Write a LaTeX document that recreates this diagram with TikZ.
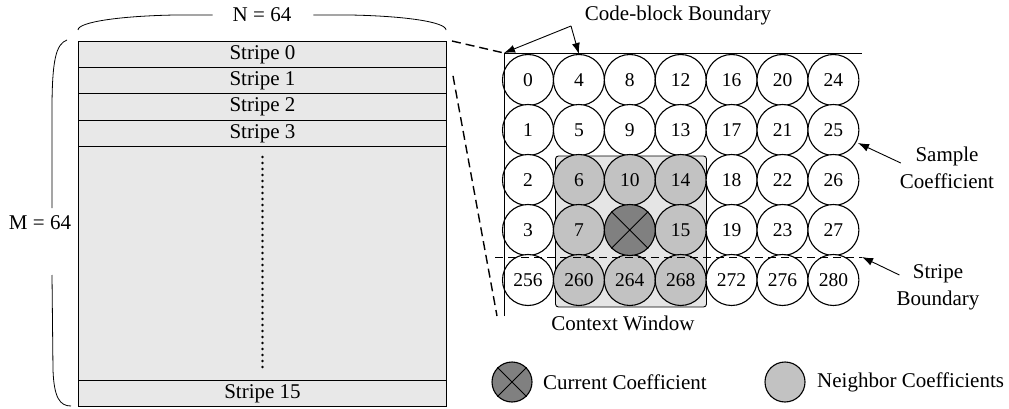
\documentclass[tikz,border=0pt]{standalone}
\usepackage{fontspec}
\setmainfont{Liberation Serif}
\usetikzlibrary{arrows.meta}
\definecolor{stripefill}{gray}{0.91}
\definecolor{winfill}{gray}{0.90}
\definecolor{nbfill}{gray}{0.76}
\definecolor{curfill}{gray}{0.50}
\begin{document}
\begin{tikzpicture}[x=1pt,y=-1pt,
  txt/.style={font=\fontsize{21}{27}\selectfont, inner sep=0pt, align=center},
  stripebox/.style={draw, fill=stripefill, line width=1pt, minimum width=368pt,
    minimum height=26.25pt, inner sep=0pt, anchor=north west,
    font=\fontsize{21}{24}\selectfont},
  coef/.style={circle, draw, fill=white, line width=1.1pt, minimum size=51pt,
    inner sep=0pt, font=\fontsize{19.5}{22}\selectfont},
  nb/.style={coef, fill=nbfill},
  cur/.style={coef, fill=curfill},
  legcirc/.style={circle, draw, line width=1.1pt, minimum size=40pt, inner sep=0pt},
  tip/.style={-{Latex[length=11pt,width=8pt]}, line width=0.9pt},
  zoomline/.style={line width=1.4pt, dash pattern=on 9pt off 5pt},
  brace/.style={line width=0.8pt},
]
\useasboundingbox (0,0) rectangle (1009,409);

% ---- code-block made of stripes ----
\node[stripebox] (s0) at (78,41)     {Stripe 0};
\node[stripebox] (s1) at (78,67.25)  {Stripe 1};
\node[stripebox] (s2) at (78,93.5)   {Stripe 2};
\node[stripebox] (s3) at (78,119.75) {Stripe 3};
\node[stripebox, minimum height=234pt] (smid) at (78,146) {};
\node[stripebox] (s15) at (78,380)   {Stripe 15};
\draw[line width=2.6pt, line cap=round, dash pattern=on 0pt off 6pt]
  (smid.north) ++(0,11) coordinate (dotA) (smid.south) ++(0,-14) coordinate (dotB)
  (dotA) -- (dotB);

% ---- dimension braces ----
\node[txt] (nlab) at (262,15) {N = 64};
\draw[brace] (78,30) .. controls (78,22) and (120,16) .. (175,15) -- ([xshift=-20pt]nlab.west);
\draw[brace] ([xshift=22pt]nlab.east) -- (350,15) .. controls (405,16) and (446,22) .. (446,30);
\node[txt] (mlab) at (40,223) {M = 64};
\draw[brace] (67,40) .. controls (56,44) and (52,60) .. (52,110) -- (52,208);
\draw[brace] (52,275) -- (53,370) .. controls (54,398) and (60,406) .. (71,406);

% ---- context window ----
\node[draw, fill=winfill, line width=0.9pt, rounded corners=3pt,
      minimum width=151pt, minimum height=151pt, inner sep=0pt] (win) at (631,231.5) {};
\node[txt] (winlab) at (623,323) {Context Window};

% ---- coefficient samples ----
\foreach \c in {0,...,6}{
  \foreach \r in {0,...,4}{
    \pgfmathtruncatemacro{\num}{\r<4 ? 4*\c+\r : 256+4*\c}
    \pgfmathtruncatemacro{\isnb}{(\c>0)&&(\c<4)&&(\r>1) ? 1 : 0}
    \pgfmathtruncatemacro{\iscur}{(\c==2)&&(\r==3) ? 1 : 0}
    \ifnum\iscur=0
      \ifnum\isnb=1
        \node[nb] (c\c-\r) at ({528+50.9*\c},{80+50*\r}) {\num};
      \else
        \node[coef] (c\c-\r) at ({528+50.9*\c},{80+50*\r}) {\num};
      \fi
    \fi
  }
}
\node[cur] (cur) at (629.8,230) {};
\draw[line width=0.9pt] (cur.north west) -- (cur.south east) (cur.north east) -- (cur.south west);

% ---- code-block boundary ----
\coordinate (cbBL) at (504,316);
\coordinate (cbTL) at (504,53);
\coordinate (cbTR) at (862,53);
\draw[line width=0.9pt] (cbBL) -- (cbTL) -- (cbTR);
\node[txt] (cblab) at (678,15) {Code-block Boundary};
\coordinate (cbfork) at (571,26);
\draw[tip] (cbfork) -- (cbTL);
\draw[tip] (cbfork) -- (c1-0.north);

% ---- stripe boundary ----
\coordinate (sbL) at (495,257);
\coordinate (sbR) at (862,257);
\draw[line width=1pt, dash pattern=on 8pt off 5pt] (sbL) -- (sbR);
\node[txt] (sblab) at (938,287) {Stripe\\Boundary};
\draw[tip] (sblab.west) ++(3,-12) coordinate (sbFrom) (sbFrom) -- (sbR);

% ---- sample coefficient ----
\node[txt] (smlab) at (947,168) {Sample\\Coefficient};
\coordinate (smTip) at (858,143);
\draw[tip] (smlab.west) ++(1,-5) coordinate (smFrom) (smFrom) -- (smTip);

% ---- zoom lines from the stripes to the detail ----
\draw[zoomline] (s0.north east) ++(5,0) coordinate (zA) (zA) -- (cbTL);
\draw[zoomline] (s1.east) ++(6,-5) coordinate (zB) (zB) -- (497,316);

% ---- legend ----
\node[legcirc, fill=curfill] (legcur) at (512,382) {};
\draw[line width=0.9pt] (legcur.north west) -- (legcur.south east) (legcur.north east) -- (legcur.south west);
\node[txt, anchor=west] (legcurlab) at (543,382) {Current Coefficient};
\node[legcirc, fill=nbfill] (legnb) at (785,382) {};
\node[txt, anchor=west] (legnblab) at (817,382) {Neighbor Coefficients};
\end{tikzpicture}
\end{document}
